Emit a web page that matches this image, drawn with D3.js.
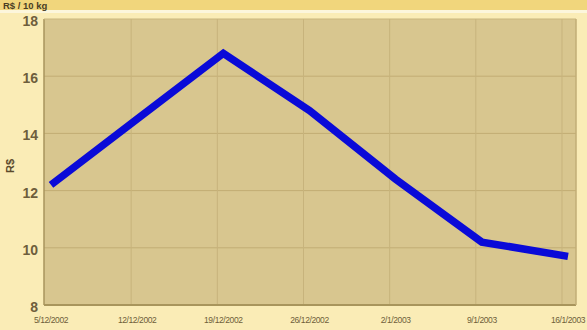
<!DOCTYPE html>
<html lang="en">
<head>
    <meta charset="UTF-8">
    <title>R$ chart</title>
    <script src="https://d3js.org/d3.v7.min.js"></script>
    <style>
        body {
            margin: 0;
            background-color: #faecb6;
            font-family: 'Liberation Sans', Arial, sans-serif;
            overflow: hidden;
        }
        svg { display: block; }
        .ylab { font-size: 14px; font-weight: bold; fill: #6e5e3c; }
        .xlab { font-size: 8.5px; fill: #6e5e3a; letter-spacing: -0.4px; }
    </style>
</head>
<body>
    <script>
        const dates = ["5/12/2002", "12/12/2002", "19/12/2002", "26/12/2002", "2/1/2003", "9/1/2003", "16/1/2003"];
        const prices = [12.2, 14.5, 16.8, 14.8, 12.4, 10.2, 9.7];
        const yTicks = [8, 10, 12, 14, 16, 18];

        const width = 587;
        const height = 330;
        const plot = { left: 44, top: 19, right: 576, bottom: 305 };

        const svg = d3.select("body").append("svg")
            .attr("width", width)
            .attr("height", height);

        // top strip with the title
        svg.append("rect").attr("x", 0).attr("y", 0).attr("width", width).attr("height", 10).attr("fill", "#f1d67c");
        svg.append("rect").attr("x", 0).attr("y", 10).attr("width", width).attr("height", 3).attr("fill", "#fcf6dc");
        svg.append("text")
            .attr("x", 3).attr("y", 8.5)
            .attr("font-size", 9.5).attr("font-weight", "bold").attr("fill", "#4a3e24")
            .text("R$ / 10 kg");

        const x = d3.scalePoint()
            .domain(dates)
            .range([plot.left + 7, plot.right - 8]);

        const y = d3.scaleLinear()
            .domain([8, 18])
            .range([plot.bottom, plot.top]);

        svg.append("rect")
            .attr("x", plot.left).attr("y", plot.top)
            .attr("width", plot.right - plot.left).attr("height", plot.bottom - plot.top)
            .attr("fill", "#d8c68f");

        // horizontal grid
        svg.selectAll(".hgrid")
            .data(yTicks.slice(1, -1))
            .enter().append("line")
            .attr("x1", plot.left).attr("x2", plot.right)
            .attr("y1", d => y(d)).attr("y2", d => y(d))
            .attr("stroke", "#c2ad74").attr("stroke-width", 1);

        // vertical grid, sits a little left of each point
        svg.selectAll(".vgrid")
            .data(dates.slice(1))
            .enter().append("line")
            .attr("x1", d => x(d) - 6).attr("x2", d => x(d) - 6)
            .attr("y1", plot.top).attr("y2", plot.bottom)
            .attr("stroke", "#c7b37c").attr("stroke-width", 1);

        // frame
        svg.append("line").attr("x1", plot.left).attr("x2", plot.left).attr("y1", plot.top).attr("y2", plot.bottom)
            .attr("stroke", "#a8955c").attr("stroke-width", 1.5);
        svg.append("line").attr("x1", plot.left).attr("x2", plot.right).attr("y1", plot.bottom).attr("y2", plot.bottom)
            .attr("stroke", "#a8955c").attr("stroke-width", 2);
        svg.append("line").attr("x1", plot.left).attr("x2", plot.right).attr("y1", plot.top).attr("y2", plot.top)
            .attr("stroke", "#c9b67f").attr("stroke-width", 1);
        svg.append("line").attr("x1", plot.right).attr("x2", plot.right).attr("y1", plot.top).attr("y2", plot.bottom)
            .attr("stroke", "#c2ae76").attr("stroke-width", 1.5);

        // y labels
        svg.selectAll(".ylab")
            .data(yTicks)
            .enter().append("text")
            .attr("class", "ylab")
            .attr("x", plot.left - 6)
            .attr("y", d => y(d) + 7)
            .attr("text-anchor", "end")
            .text(d => d);

        svg.append("text")
            .attr("transform", `translate(14, ${(plot.top + plot.bottom) / 2 + 4}) rotate(-90)`)
            .attr("text-anchor", "middle")
            .attr("font-size", 11).attr("font-weight", "bold").attr("fill", "#5a4a2c")
            .text("R$");

        // x labels
        svg.selectAll(".xlab")
            .data(dates)
            .enter().append("text")
            .attr("class", "xlab")
            .attr("x", d => x(d))
            .attr("y", 323)
            .attr("text-anchor", "middle")
            .text(d => d);

        const line = d3.line()
            .x((d, i) => x(dates[i]))
            .y(d => y(d));

        svg.append("path")
            .datum(prices)
            .attr("d", line)
            .attr("fill", "none")
            .attr("stroke", "#0a0ad8")
            .attr("stroke-width", 7.5)
            .attr("stroke-linejoin", "miter")
            .attr("stroke-linecap", "butt");
    </script>
</body>
</html>
